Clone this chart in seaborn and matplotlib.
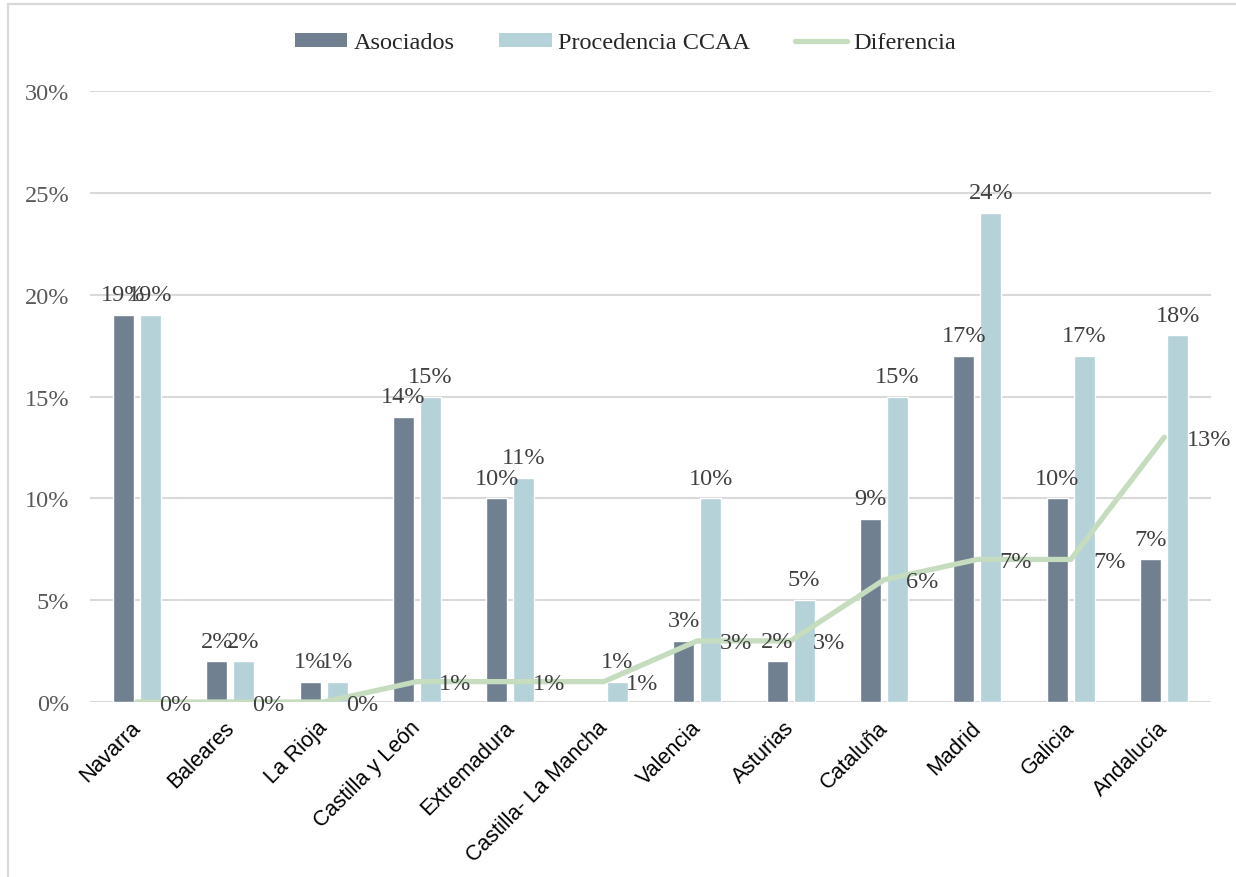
import numpy as np
import pandas as pd
import matplotlib
matplotlib.use("Agg")
import matplotlib.pyplot as plt
from matplotlib.patches import Rectangle, Patch
from matplotlib.lines import Line2D
from matplotlib.ticker import FuncFormatter
import matplotlib.transforms as mtransforms
import seaborn as sns

# Data (percent)
regiones = ["Navarra", "Baleares", "La Rioja", "Castilla y León", "Extremadura",
            "Castilla- La Mancha", "Valencia", "Asturias", "Cataluña", "Madrid",
            "Galicia", "Andalucía"]
asociados = [19, 2, 1, 14, 10, np.nan, 3, 2, 9, 17, 10, 7]
procedencia = [19, 2, 1, 15, 11, 1, 10, 5, 15, 24, 17, 18]
diferencia = [0, 0, 0, 1, 1, 1, 3, 3, 6, 7, 7, 13]
series = ["Asociados", "Procedencia CCAA"]
line_name = "Diferencia"
y_ticks = [0, 5, 10, 15, 20, 25, 30]

c_dark = "#708090"
c_light = "#b4d2d8"
c_line = "#c5dcbf"
c_grid = "#d9d9d9"
c_text = "#404040"
c_tick = "#595959"
fs = 17.5

sns.set_theme(style="white")
plt.rcParams["font.family"] = ["Liberation Serif", "DejaVu Serif"]

df = pd.DataFrame({
    "Región": regiones * 2,
    "Serie": [series[0]] * len(regiones) + [series[1]] * len(regiones),
    "Valor": list(asociados) + list(procedencia),
})

fig = plt.figure(figsize=(12.36, 8.78), dpi=100)
ax = fig.add_axes([90 / 1236, 175 / 878, 1121 / 1236, 611 / 878])

sns.barplot(data=df, x="Región", y="Valor", hue="Serie", order=regiones,
            hue_order=series, palette=[c_dark, c_light], width=0.578, gap=0.22,
            saturation=1, errorbar=None, legend=False, ax=ax, zorder=2)

x_pos = np.arange(len(regiones))
sns.lineplot(x=x_pos, y=diferencia, color=c_line, linewidth=3.8, sort=False,
             ax=ax, zorder=4, solid_capstyle="round", solid_joinstyle="round")

# bar value labels above each bar
for cont in ax.containers:
    for bar in cont.patches:
        if bar is None:
            continue
        h = bar.get_height()
        if np.isnan(h):
            continue
        ax.annotate(f"{h:.0f}%", xy=(bar.get_x() + bar.get_width() / 2, h),
                    xytext=(0, 7), textcoords="offset points", ha="center",
                    va="bottom", fontsize=fs, color=c_text, zorder=5)

# line value labels, to the right of each point
for xi, v in zip(x_pos, diferencia):
    ax.annotate(f"{v:.0f}%", xy=(xi, v), xytext=(16, -1.5),
                textcoords="offset points", ha="left", va="center",
                fontsize=fs, color=c_text, zorder=5)

ax.set_ylim(0, 30)
ax.set_xlim(-0.5, len(regiones) - 0.5)
ax.set_yticks(y_ticks)
ax.yaxis.set_major_formatter(FuncFormatter(lambda v, p: f"{v:.0f}%"))
ax.grid(axis="y", color=c_grid, linewidth=1.5, zorder=0)
ax.set_axisbelow(True)
for s in ax.spines.values():
    s.set_visible(False)
ax.set_xlabel("")
ax.set_ylabel("")
ax.tick_params(axis="y", length=0, pad=15, labelsize=fs, labelcolor=c_tick)
ax.tick_params(axis="x", length=0, pad=6)

ax.set_xticks(x_pos)
ax.set_xticklabels(regiones, rotation=45, ha="right", va="center",
                   rotation_mode="anchor", fontsize=15.5,
                   family=["Liberation Sans"], color="black")
offset = mtransforms.ScaledTranslation(0.5 / 72, -10 / 72, fig.dpi_scale_trans)
for lbl in ax.get_xticklabels():
    lbl.set_transform(lbl.get_transform() + offset)

# legend
handles = [Patch(facecolor=c_dark, edgecolor="none"),
           Patch(facecolor=c_light, edgecolor="none"),
           Line2D([0], [0], color=c_line, linewidth=3.8, solid_capstyle="round")]
fig.legend(handles, series + [line_name], loc="center", bbox_to_anchor=(0.506, 0.950),
           ncol=3, frameon=False, fontsize=fs, handlelength=2.15, handleheight=0.5,
           handletextpad=0.25, columnspacing=1.85)

# chart frame
fig.patches.append(Rectangle((8 / 1236, -0.2), 1.2, 1.2 - 5 / 878,
                             transform=fig.transFigure, fill=False,
                             edgecolor=c_grid, linewidth=1.6, zorder=0))

fig.savefig("out.png", dpi=100, facecolor="white")
